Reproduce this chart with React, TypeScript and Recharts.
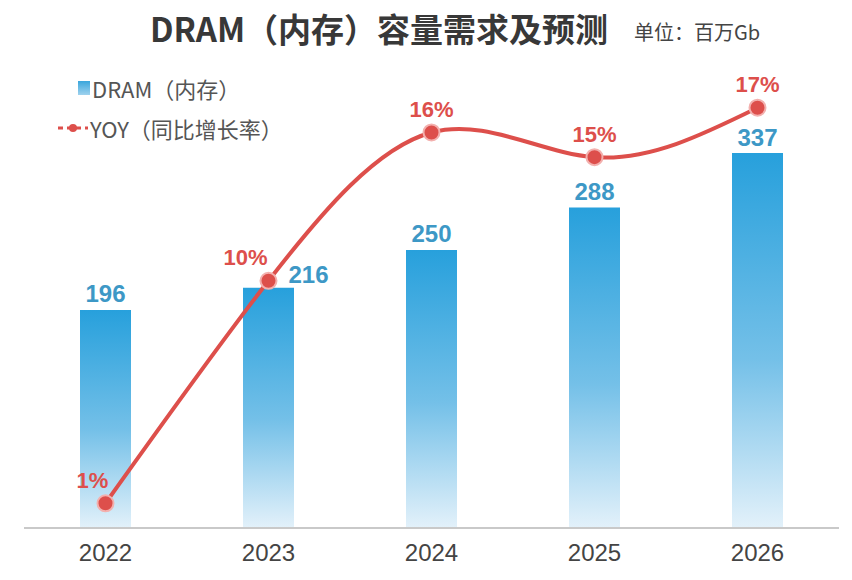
import React from 'react';
import { ComposedChart, Bar, Line, XAxis, YAxis, LabelList } from 'recharts';

// values
const years = ['2022', '2023', '2024', '2025', '2026'];
const dramDemand = [196, 216, 250, 288, 337]; // 百万Gb
const yoyGrowth = [1, 10, 16, 15, 17]; // %

const data = years.map((year, i) => ({ year, dram: dramDemand[i], yoy: yoyGrowth[i] }));

const FONT = '"Noto Sans CJK SC", "Noto Sans", sans-serif';
const NUM_FONT = "Arial, 'Liberation Sans', sans-serif";
const RED = '#dd4f4b';
const BLUE_TEXT = '#3d98c6';

const YoyLabel = (props: any) => {
  const { x, y, value, index } = props;
  const dx = index === 0 ? -13 : index === 1 ? -23 : 0;
  return (
    <text
      x={x + dx}
      y={y - 23}
      textAnchor="middle"
      dominantBaseline="central"
      fill={RED}
      fontSize={22}
      fontWeight="bold"
      fontFamily={NUM_FONT}
    >
      {value}%
    </text>
  );
};

// 2023's value sits right of the line dot, the others centred above the bar
const DramLabel = (props: any) => {
  const { x, y, width, value, index } = props;
  const shifted = index === 1;
  return (
    <text
      x={x + width / 2 + (shifted ? 40 : 0)}
      y={y - (shifted ? 13 : 16)}
      textAnchor="middle"
      dominantBaseline="central"
      fill={BLUE_TEXT}
      fontSize={24}
      fontWeight="bold"
      fontFamily={NUM_FONT}
    >
      {value}
    </text>
  );
};

// legend drawn over the chart, top-left, like the original
const LegendBox = () => (
  <div
    style={{
      position: 'absolute',
      left: 56,
      top: 70,
      fontFamily: FONT,
      fontSize: 22,
      color: '#555',
      whiteSpace: 'nowrap',
    }}
  >
    <div style={{ display: 'flex', alignItems: 'center', height: 36 }}>
      <span
        style={{
          display: 'inline-block',
          width: 12,
          height: 14,
          marginLeft: 22,
          marginRight: 2,
          background: 'linear-gradient(#3aa6dc, #9fd2ee)',
        }}
      />
      DRAM（内存）
    </div>
    <div style={{ display: 'flex', alignItems: 'center', height: 44 }}>
      <svg width={34} height={14}>
        <line x1={2} y1={7} x2={32} y2={7} stroke={RED} strokeWidth={3} strokeDasharray="5 4" />
        <circle cx={17} cy={7} r={4} fill={RED} />
      </svg>
      YOY（同比增长率）
    </div>
  </div>
);

const App: React.FC = () => {
  return (
    <div style={{ position: 'relative', width: 852, height: 580, margin: -8, background: '#fff' }}>
      <div
        style={{
          position: 'absolute',
          left: 0,
          top: 4,
          width: 852,
          fontFamily: FONT,
          color: '#383838',
          whiteSpace: 'nowrap',
        }}
      >
        <span style={{ position: 'absolute', left: 150, top: 0, fontSize: 33, fontWeight: 'bold' }}>
          DRAM（内存）容量需求及预测
        </span>
        <span style={{ position: 'absolute', left: 634, top: 13, fontSize: 20, color: '#444' }}>
          单位：百万Gb
        </span>
      </div>
      <LegendBox />
      <ComposedChart
        width={852}
        height={580}
        data={data}
        margin={{ top: 83, right: 13, left: 24, bottom: 0 }}
        style={{ position: 'absolute', left: 0, top: 0 }}
      >
        <defs>
          <linearGradient id="barFill" x1="0" y1="0" x2="0" y2="1">
            <stop offset="0%" stopColor="#27a0dc" />
            <stop offset="55%" stopColor="#74c0e8" />
            <stop offset="100%" stopColor="#e3f1fa" />
          </linearGradient>
        </defs>
        <XAxis
          dataKey="year"
          height={52}
          axisLine={{ stroke: '#c9c9c9', strokeWidth: 2 }}
          tickLine={false}
          tick={{ fill: '#444', fontSize: 24, fontFamily: NUM_FONT }}
          tickMargin={10}
        />
        <YAxis yAxisId="left" domain={[0, 400]} hide />
        <YAxis yAxisId="right" orientation="right" domain={[0, 18]} hide />
        <Bar yAxisId="left" dataKey="dram" fill="url(#barFill)" barSize={51} isAnimationActive={false}>
          <LabelList dataKey="dram" content={<DramLabel />} />
        </Bar>
        <Line
          yAxisId="right"
          type="natural"
          dataKey="yoy"
          stroke={RED}
          strokeWidth={4}
          dot={{ r: 8, fill: RED, stroke: '#f3b0ae', strokeWidth: 2 }}
          activeDot={false}
          isAnimationActive={false}
        >
          <LabelList dataKey="yoy" content={<YoyLabel />} />
        </Line>
      </ComposedChart>
    </div>
  );
};

export default App;
